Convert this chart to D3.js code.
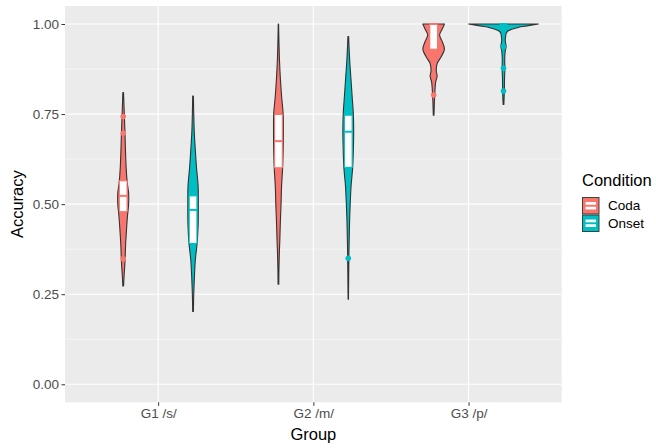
<!DOCTYPE html>
<html>
<head>
<meta charset="utf-8">
<script src="https://cdn.jsdelivr.net/npm/d3@7"></script>
<style>
  body { margin: 0; background: #fff; }
  text { font-family: "Liberation Sans", Arial, sans-serif; }
</style>
</head>
<body>
<script>
// categories
const groups = ["G1 /s/", "G2 /m/", "G3 /p/"];
const conditions = ["Coda", "Onset"];
const colors = { Coda: "#F8766D", Onset: "#00BFC4" };
const yTicks = [0, 0.25, 0.5, 0.75, 1];
const yMinor = [0.125, 0.375, 0.625, 0.875];

// violin outlines: [accuracy, relative width]
const g1Coda = [[0.273,0.01],[0.30,0.025],[0.33,0.045],[0.35,0.055],[0.39,0.07],[0.43,0.095],[0.47,0.125],[0.50,0.155],[0.53,0.155],[0.56,0.115],[0.60,0.085],[0.65,0.065],[0.70,0.05],[0.74,0.035],[0.78,0.02],[0.81,0.01]];
const g1Onset = [[0.202,0.01],[0.25,0.02],[0.30,0.04],[0.345,0.065],[0.39,0.115],[0.44,0.145],[0.50,0.15],[0.55,0.145],[0.60,0.1],[0.65,0.065],[0.70,0.035],[0.75,0.02],[0.80,0.01]];
const g2Coda = [[0.278,0.01],[0.32,0.015],[0.36,0.025],[0.40,0.04],[0.45,0.055],[0.50,0.075],[0.55,0.09],[0.60,0.12],[0.65,0.135],[0.70,0.14],[0.75,0.135],[0.80,0.09],[0.85,0.055],[0.90,0.03],[0.95,0.015],[1.0,0.005]];
const g2Onset = [[0.236,0.005],[0.28,0.01],[0.33,0.015],[0.37,0.02],[0.42,0.03],[0.46,0.04],[0.50,0.055],[0.55,0.08],[0.60,0.125],[0.65,0.145],[0.70,0.155],[0.75,0.145],[0.80,0.11],[0.85,0.075],[0.90,0.04],[0.965,0.01]];
const g3Coda = [[0.747,0.01],[0.78,0.02],[0.80,0.03],[0.82,0.04],[0.84,0.06],[0.855,0.1],[0.87,0.075],[0.89,0.1],[0.91,0.22],[0.93,0.31],[0.95,0.25],[0.97,0.17],[0.985,0.24],[1.0,0.31]];
const g3Onset = [[0.777,0.01],[0.814,0.025],[0.85,0.03],[0.877,0.04],[0.9,0.035],[0.925,0.05],[0.937,0.075],[0.945,0.065],[0.955,0.05],[0.965,0.06],[0.975,0.08],[0.98,0.12],[0.985,0.22],[0.99,0.4],[0.993,0.55],[0.997,0.8],[1.0,1.0]];

// box stats in order G1 Coda, G1 Onset, G2 Coda, G2 Onset, G3 Coda, G3 Onset
const boxQ1 = [0.479, 0.391, 0.601, 0.602, 0.93, 1.0];
const boxMedian = [0.523, 0.484, 0.675, 0.701, 1.0, 1.0];
const boxQ3 = [0.565, 0.523, 0.749, 0.747, 1.0, 1.0];
const outliers = [[0.743, 0.697, 0.348], [], [], [0.35], [0.803], [0.937, 0.877, 0.814]];

const profiles = [g1Coda, g1Onset, g2Coda, g2Onset, g3Coda, g3Onset];
const violins = profiles.map((p, i) => ({
  group: groups[Math.floor(i / 2)],
  cond: conditions[i % 2],
  profile: p,
  q1: boxQ1[i], med: boxMedian[i], q3: boxQ3[i],
  out: outliers[i]
}));

const width = 656, height = 448;
const panel = { left: 65, right: 561.7, top: 6, bottom: 402.3 };

const svg = d3.select("body").append("svg")
  .attr("width", width)
  .attr("height", height);

const x = d3.scalePoint().domain(groups).range([panel.left, panel.right]).padding(0.6);
const step = x.step();
const dodge = d3.scaleOrdinal().domain(conditions).range([-0.225 * step, 0.225 * step]);
const w = d3.scaleLinear().domain([0, 1]).range([0, 0.225 * step]);
const y = d3.scaleLinear().domain([-0.05, 1.05]).range([panel.bottom, panel.top]);

// panel background + grid
svg.append("rect")
  .attr("x", panel.left).attr("y", panel.top)
  .attr("width", panel.right - panel.left).attr("height", panel.bottom - panel.top)
  .attr("fill", "#EBEBEB");

svg.append("g").selectAll("line").data(yMinor).enter().append("line")
  .attr("x1", panel.left).attr("x2", panel.right)
  .attr("y1", d => y(d)).attr("y2", d => y(d))
  .attr("stroke", "#fff").attr("stroke-width", 0.55);

svg.append("g").selectAll("line").data(yTicks).enter().append("line")
  .attr("x1", panel.left).attr("x2", panel.right)
  .attr("y1", d => y(d)).attr("y2", d => y(d))
  .attr("stroke", "#fff").attr("stroke-width", 1.1);

svg.append("g").selectAll("line").data(groups).enter().append("line")
  .attr("x1", d => x(d)).attr("x2", d => x(d))
  .attr("y1", panel.top).attr("y2", panel.bottom)
  .attr("stroke", "#fff").attr("stroke-width", 1.1);

// axes
const yAxis = d3.axisLeft(y).tickValues(yTicks).tickFormat(d3.format(".2f")).tickSize(3.5).tickPadding(2.5);
const gy = svg.append("g").attr("transform", `translate(${panel.left},0)`).call(yAxis);
const xAxis = d3.axisBottom(x).tickSize(3.5).tickPadding(3);
const gx = svg.append("g").attr("transform", `translate(0,${panel.bottom})`).call(xAxis);
[gy, gx].forEach(g => {
  g.select(".domain").remove();
  g.selectAll(".tick line").attr("stroke", "#333");
  g.selectAll(".tick text").attr("fill", "#4D4D4D").style("font-size", "13.5px")
    .style("font-family", "'Liberation Sans', Arial, sans-serif");
});

svg.append("text")
  .attr("x", (panel.left + panel.right) / 2).attr("y", 440)
  .attr("text-anchor", "middle")
  .style("font-size", "16.5px")
  .text("Group");

svg.append("text")
  .attr("transform", `translate(23,${(panel.top + panel.bottom) / 2}) rotate(-90)`)
  .attr("text-anchor", "middle")
  .style("font-size", "16.5px")
  .text("Accuracy");

// violins
const area = d3.area()
  .curve(d3.curveCatmullRom)
  .y(d => y(d[0]));

const vg = svg.append("g");
violins.forEach(v => {
  const cx = x(v.group) + dodge(v.cond);
  vg.append("path")
    .datum(v.profile)
    .attr("d", area.x0(d => cx - w(d[1])).x1(d => cx + w(d[1])))
    .attr("fill", colors[v.cond])
    .attr("stroke", "#333")
    .attr("stroke-width", 1.1)
    .attr("stroke-linejoin", "round");
});

// boxes
const boxW = 0.05 * step;
const bg = svg.append("g");
violins.forEach(v => {
  const cx = x(v.group) + dodge(v.cond);
  bg.append("rect")
    .attr("x", cx - boxW / 2).attr("y", y(v.q3))
    .attr("width", boxW).attr("height", y(v.q1) - y(v.q3))
    .attr("fill", "#fff")
    .attr("stroke", colors[v.cond]).attr("stroke-width", 1.1);
  bg.append("line")
    .attr("x1", cx - boxW / 2).attr("x2", cx + boxW / 2)
    .attr("y1", y(v.med)).attr("y2", y(v.med))
    .attr("stroke", colors[v.cond]).attr("stroke-width", 2);
  bg.selectAll(null).data(v.out).enter().append("circle")
    .attr("cx", cx).attr("cy", d => y(d)).attr("r", 2.8)
    .attr("fill", colors[v.cond]);
});

// legend
const legend = svg.append("g").attr("transform", "translate(582,0)");
legend.append("text")
  .attr("x", 0).attr("y", 186)
  .style("font-size", "16.5px")
  .text("Condition");

const keySize = 17.5;
const keys = legend.selectAll("g.key").data(conditions).enter().append("g")
  .attr("class", "key")
  .attr("transform", (d, i) => `translate(0,${197 + i * keySize})`);
keys.append("rect")
  .attr("x", 0.5).attr("y", 0.5)
  .attr("width", keySize - 1).attr("height", keySize - 1)
  .attr("fill", d => colors[d]).attr("stroke", "#333").attr("stroke-width", 0.9);
keys.append("rect")
  .attr("x", 3).attr("y", 4.5)
  .attr("width", keySize - 6).attr("height", keySize - 9)
  .attr("fill", "#fff").attr("stroke", d => colors[d]).attr("stroke-width", 1.1);
keys.append("line")
  .attr("x1", 3).attr("x2", keySize - 3)
  .attr("y1", keySize / 2).attr("y2", keySize / 2)
  .attr("stroke", d => colors[d]).attr("stroke-width", 2);
keys.append("text")
  .attr("x", 26).attr("y", keySize / 2)
  .attr("dominant-baseline", "central")
  .style("font-size", "13.5px")
  .text(d => d);
</script>
</body>
</html>
